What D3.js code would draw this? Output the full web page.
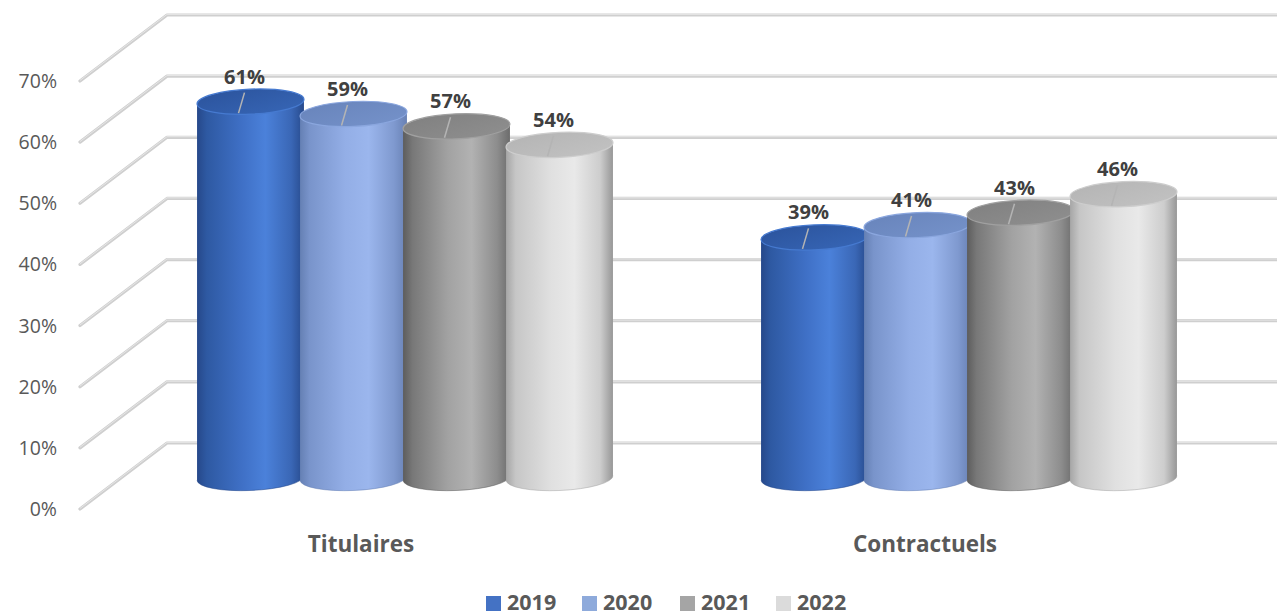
<!DOCTYPE html>
<html>
<head>
<meta charset="utf-8">
<script src="https://cdn.jsdelivr.net/npm/d3@7"></script>
<style>
  html, body { margin: 0; padding: 0; background: #ffffff; }
  svg { display: block; }
  text { font-family: "Open Sans", "DejaVu Sans", sans-serif; }
</style>
</head>
<body>
<svg id="chart" width="1277" height="615"></svg>
<script>
// Share of staff by status, per year
const categories = ["Titulaires", "Contractuels"];
const years = ["2019", "2020", "2021", "2022"];
const titulaires = [0.61, 0.59, 0.57, 0.54];
const contractuels = [0.39, 0.41, 0.43, 0.46];
const yTicks = [0, 0.1, 0.2, 0.3, 0.4, 0.5, 0.6, 0.7];

const seriesByCategory = { "Titulaires": titulaires, "Contractuels": contractuels };

const W = 1277, H = 615;
const svg = d3.select("#chart");

// Colour ramps for each year's cylinder (body gradient, top face, legend swatch)
const palette = {
  "2019": { swatch: "#4472c4", top: ["#2b539c", "#3766b6"], rim: "#467ad0",
            body: ["#26488a", "#2e59a2", "#3f70c6", "#4b81da", "#3a67b6", "#274a8c"] },
  "2020": { swatch: "#8eaadb", top: ["#6884bb", "#7592ca"], rim: "#8aa6de",
            body: ["#6580b4", "#7994cb", "#93aee6", "#9bb6ed", "#7f99cf", "#6881b4"] },
  "2021": { swatch: "#a5a5a5", top: ["#808080", "#8f8f8f"], rim: "#a0a0a0",
            body: ["#5d5d5d", "#787878", "#a2a2a2", "#b2b2b2", "#8d8d8d", "#6c6c6c"] },
  "2022": { swatch: "#dbdbdb", top: ["#b4b4b4", "#c2c2c2"], rim: "#cdcdcd",
            body: ["#a6a6a6", "#c6c6c6", "#e0e0e0", "#e9e9e9", "#cdcdcd", "#979797"] }
};
const bodyOffsets = [0, 0.09, 0.42, 0.64, 0.88, 1];

const defs = svg.append("defs");
years.forEach(y => {
  const g = defs.append("linearGradient").attr("id", "body" + y)
    .attr("x1", "0%").attr("x2", "100%").attr("y1", "0%").attr("y2", "0%");
  palette[y].body.forEach((c, i) => g.append("stop").attr("offset", bodyOffsets[i]).attr("stop-color", c));
  const t = defs.append("linearGradient").attr("id", "top" + y)
    .attr("x1", "0%").attr("x2", "100%").attr("y1", "0%").attr("y2", "100%");
  t.append("stop").attr("offset", 0).attr("stop-color", palette[y].top[0]);
  t.append("stop").attr("offset", 1).attr("stop-color", palette[y].top[1]);
});

// Front edge of the floor / value axis, and the back wall offset
const yFront = d3.scaleLinear().domain([0, 0.7]).range([509, 81]);
const frontX = 80, backX = 167, backDy = -66;
// Value scale on the plane where the cylinders stand
const yBar = d3.scaleLinear().domain([0, 0.7]).range([478, 478 - 0.7 * 617]);

// Category positions and per-year offsets within a group
const xCat = d3.scalePoint().domain(categories).range([405, 969]);
const xYear = d3.scaleBand().domain(years).range([-206, 206]).padding(0);

// ---- Gridlines: diagonal side wall + horizontal back wall ----
const grid = svg.append("g");
yTicks.forEach(v => {
  const yf = yFront(v), yb = yf + backDy;
  const pts = [[frontX, yf], [backX, yb], [W + 5, yb]];
  grid.append("path").attr("d", d3.line()(pts))
    .attr("fill", "none").attr("stroke", "#cfcfcf").attr("stroke-width", 3.2)
    .attr("stroke-linejoin", "round").attr("stroke-linecap", "round");
  grid.append("path").attr("d", d3.line()(pts.map(p => [p[0], p[1] - 0.6])))
    .attr("fill", "none").attr("stroke", "#e6e6e6").attr("stroke-width", 1)
    .attr("stroke-linejoin", "round");
});

// ---- Value axis labels ----
svg.append("g").selectAll("text").data(yTicks).join("text")
  .attr("x", 57).attr("y", d => yFront(d) + 7)
  .attr("text-anchor", "end")
  .attr("font-size", 19.5).attr("fill", "#595959")
  .text(d => d3.format(".0%")(d));

// ---- Cylinders ----
const rx = 53.5, ry = 12.5, tilt = -2.5;
const rad = tilt * Math.PI / 180;
const ex = rx * Math.cos(rad), ey = rx * Math.sin(rad);

const bars = svg.append("g");
const labels = svg.append("g");

categories.forEach(cat => {
  const vals = seriesByCategory[cat];
  years.forEach((yr, i) => {
    const v = vals[i];
    const cx = xCat(cat) + xYear(yr) + xYear.bandwidth() / 2;
    const yTop = yBar(v), yBot = yBar(0);
    const g = bars.append("g");

    // body: sides plus the front half of the base ellipse
    const body = `M${cx - ex},${yTop - ey} L${cx - ex},${yBot - ey} ` +
      `A${rx},${ry} ${tilt} 0 0 ${cx + ex},${yBot + ey} L${cx + ex},${yTop + ey} Z`;
    g.append("path").attr("d", body).attr("fill", `url(#body${yr})`);
    // faint rim along the base
    g.append("path")
      .attr("d", `M${cx - ex},${yBot - ey} A${rx},${ry} ${tilt} 0 0 ${cx + ex},${yBot + ey}`)
      .attr("fill", "none").attr("stroke", palette[yr].body[0]).attr("stroke-opacity", 0.5).attr("stroke-width", 1);

    // top face
    g.append("ellipse")
      .attr("cx", cx).attr("cy", yTop).attr("rx", rx).attr("ry", ry)
      .attr("transform", `rotate(${tilt},${cx},${yTop})`)
      .attr("fill", `url(#top${yr})`)
      .attr("stroke", palette[yr].rim).attr("stroke-width", 1.2);

    // value label with a short leader to the top face
    const lx = cx - 6, ly = yTop - 18;
    labels.append("line")
      .attr("x1", lx).attr("y1", ly + 9)
      .attr("x2", cx - 12).attr("y2", yTop + ry - 1)
      .attr("stroke", "#b4b4b4").attr("stroke-width", 1.5);
    labels.append("text")
      .attr("x", lx).attr("y", ly)
      .attr("text-anchor", "middle")
      .attr("font-size", 20).attr("font-weight", 700).attr("fill", "#404040")
      .text(d3.format(".0%")(v));
  });
});

// ---- Category labels (on the front edge) ----
svg.append("g").selectAll("text").data(categories).join("text")
  .attr("x", d => xCat(d) - 44).attr("y", 552)
  .attr("text-anchor", "middle")
  .attr("font-size", 22.5).attr("font-weight", 700).attr("fill", "#595959")
  .text(d => d);

// ---- Legend ----
const legendX = [486, 582, 680, 776];
const legend = svg.append("g");
years.forEach((yr, i) => {
  legend.append("rect").attr("x", legendX[i]).attr("y", 596).attr("width", 15).attr("height", 15)
    .attr("fill", palette[yr].swatch);
  legend.append("text").attr("x", legendX[i] + 21).attr("y", 610)
    .attr("font-size", 21.5).attr("font-weight", 700).attr("fill", "#595959")
    .text(yr);
});
</script>
</body>
</html>
